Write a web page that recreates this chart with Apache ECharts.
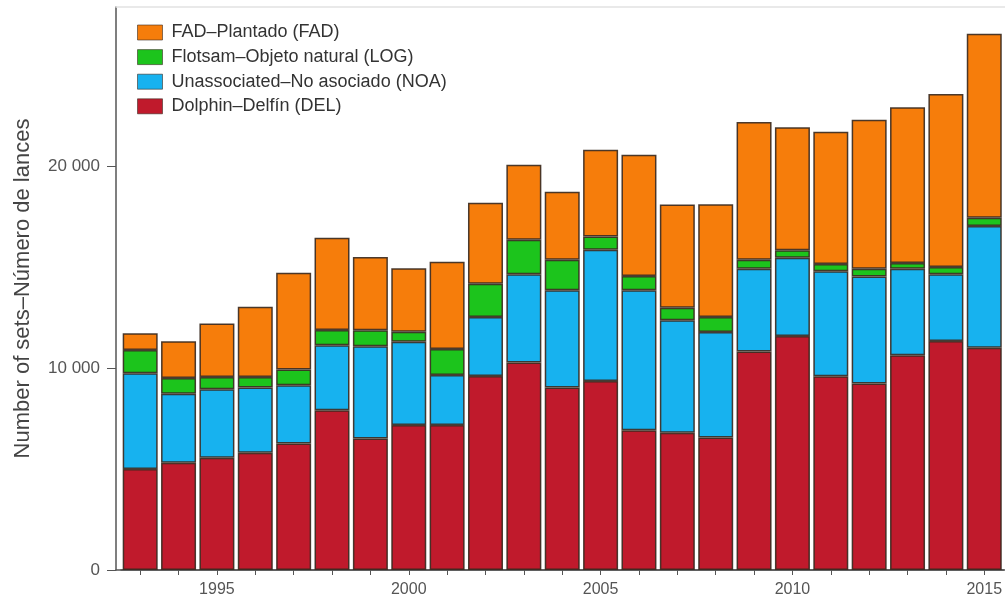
<!DOCTYPE html>
<html>
<head>
<meta charset="utf-8">
<script src="https://cdn.jsdelivr.net/npm/echarts@6/dist/echarts.min.js"></script>
<style>
html,body{margin:0;padding:0;background:#fff;}
#chart{width:1005px;height:601px;}
</style>
</head>
<body>
<div id="chart"></div>
<script>
const years = ['1993','1994','1995','1996','1997','1998','1999','2000','2001','2002','2003','2004','2005','2006','2007','2008','2009','2010','2011','2012','2013','2014','2015'];
const xTickLabels = ['1995','2000','2005','2010','2015'];
const yTickValues = [0, 10000, 20000];

const del = [5000,5310,5560,5810,6270,7920,6520,7180,7180,9620,10280,9040,9370,6930,6800,6570,10830,11600,9600,9240,10640,11350,11010];
const noa = [4750,3430,3400,3230,2890,3220,4570,4130,2480,2920,4370,4820,6500,6930,5580,5230,4100,3880,5210,5310,4290,3300,6040];
const log = [1150,775,610,530,780,750,790,500,1290,1650,1720,1520,660,710,610,740,450,360,360,380,280,360,400];
const fad = [830,1820,2640,3470,4790,4570,3630,3140,4320,4010,3710,3370,4290,6010,5120,5580,6820,6100,6550,7380,7720,8580,9130];

const seriesNames = ['FAD\u2013Plantado (FAD)','Flotsam\u2013Objeto natural (LOG)','Unassociated\u2013No asociado (NOA)','Dolphin\u2013Delfín (DEL)'];
const colors = {fad:'#f67d0b', log:'#1cc41c', noa:'#17b2ef', del:'#c01a2c'};

const chart = echarts.init(document.getElementById('chart'));
const border = {borderColor:'rgba(55,40,30,0.9)', borderWidth:1.5};
const mk = (name, data, color) => ({
  name, type:'bar', stack:'total', data, xAxisIndex:0, yAxisIndex:0,
  barWidth:35, itemStyle:Object.assign({color}, border)
});
const font = 'Liberation Sans, Arial, sans-serif';
chart.setOption({
  animation:false,
  backgroundColor:'#ffffff',
  grid:[
    {left:121, top:7, bottom:31, width:885.5},
    {left:116, top:7, bottom:31, right:0}
  ],
  legend:{
    orient:'vertical', left:132, top:18.5, icon:'rect',
    data:seriesNames.slice(),
    itemWidth:25, itemHeight:15, itemGap:6.6,
    textStyle:{fontFamily:font, fontSize:18, color:'#333', padding:[0,0,0,4], lineHeight:15},
    itemStyle:{borderColor:'rgba(60,45,35,0.6)', borderWidth:1}
  },
  xAxis:[
    {type:'category', gridIndex:0, data:years, boundaryGap:true,
     axisLine:{show:true, lineStyle:{color:'#555', width:1.5}},
     axisTick:{show:true, interval:0, alignWithLabel:true, length:5, lineStyle:{color:'#555'}},
     axisLabel:{interval:(i,v)=>xTickLabels.includes(v), fontFamily:font, fontSize:16, color:'#555', margin:12},
     splitLine:{show:false}},
    {type:'value', gridIndex:1, min:0, max:1, position:'bottom',
     axisLine:{show:true, lineStyle:{color:'#555', width:1.5}},
     axisTick:{show:false}, axisLabel:{show:false}, splitLine:{show:false}},
    {type:'value', gridIndex:1, min:0, max:1, position:'top',
     axisLine:{show:true, lineStyle:{color:'#e2e2e2', width:1.5}},
     axisTick:{show:false}, axisLabel:{show:false}, splitLine:{show:false}}
  ],
  yAxis:[
    {type:'value', gridIndex:0, min:0, max:27900, show:false, splitLine:{show:false}},
    {type:'value', gridIndex:1, min:0, max:27900,
     name:'Number of sets\u2013Número de lances', nameLocation:'middle', nameGap:82,
     nameTextStyle:{fontFamily:font, fontSize:22, color:'#444'},
     axisLine:{show:true, lineStyle:{color:'#555', width:1.5}},
     axisTick:{show:true, customValues:yTickValues, length:9, lineStyle:{color:'#555'}},
     axisLabel:{customValues:yTickValues, fontFamily:font, fontSize:17, color:'#555', margin:16,
       formatter:v=>String(v).replace(/\B(?=(\d{3})+(?!\d))/g,' ')},
     splitLine:{show:false}}
  ],
  series:[
    mk(seriesNames[3], del, colors.del),
    mk(seriesNames[2], noa, colors.noa),
    mk(seriesNames[1], log, colors.log),
    mk(seriesNames[0], fad, colors.fad)
  ]
});
</script>
</body>
</html>
